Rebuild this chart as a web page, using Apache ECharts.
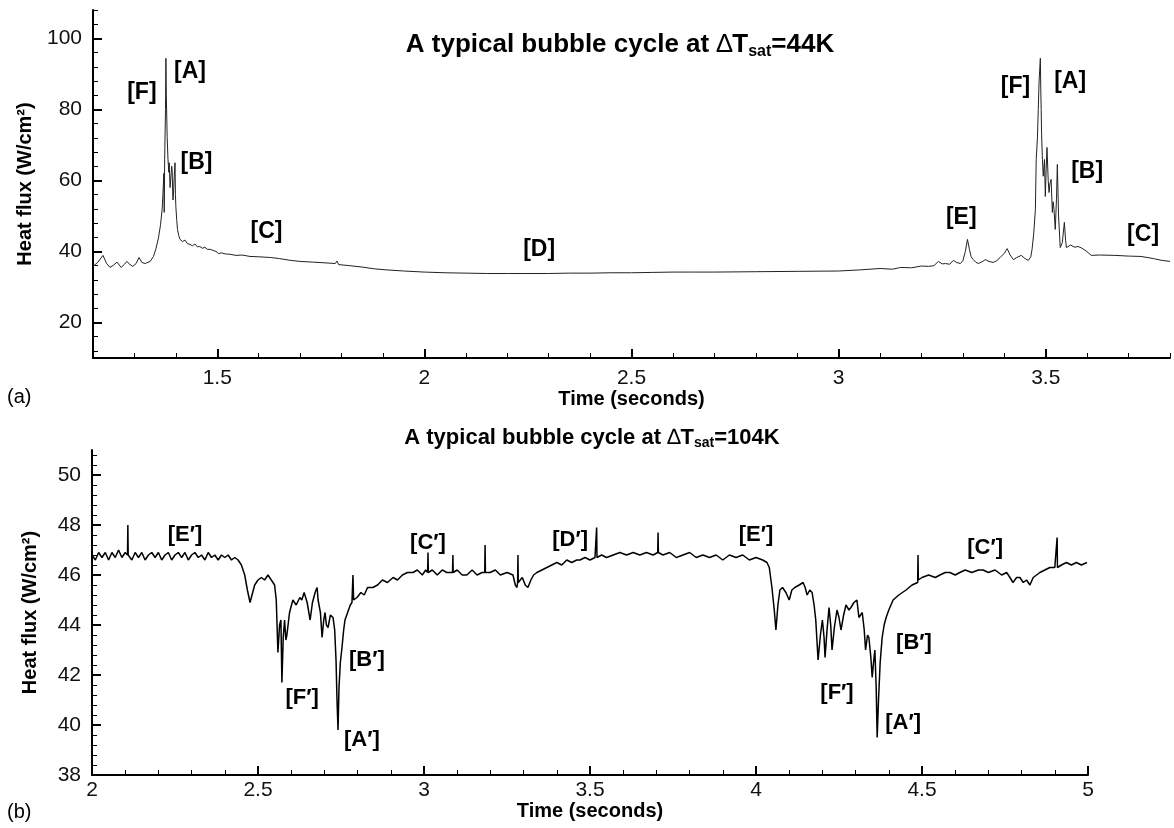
<!DOCTYPE html>
<html>
<head>
<meta charset="utf-8">
<script src="https://cdn.jsdelivr.net/npm/echarts@6/dist/echarts.min.js"></script>
<style>
  html, body { margin: 0; padding: 0; background: #fff; }
  #chart { width: 1174px; height: 828px; }
</style>
</head>
<body>
<div id="chart"></div>
<script>
// (a) dT_sat = 44K : time (s) and heat flux (W/cm2)
var topTime = [1.200, 1.212, 1.224, 1.233, 1.241, 1.250, 1.258, 1.268, 1.276, 1.282, 1.290, 1.296, 1.304, 1.311, 1.318, 1.326, 1.338, 1.346, 1.352, 1.358,
  1.363, 1.367, 1.369, 1.371, 1.372, 1.373, 1.375, 1.376, 1.377, 1.379, 1.381, 1.383, 1.384, 1.386, 1.388, 1.390, 1.391, 1.393, 1.394, 1.396,
  1.398, 1.399, 1.400, 1.402, 1.404, 1.407, 1.410, 1.416, 1.422, 1.428, 1.434, 1.440, 1.446, 1.452, 1.458, 1.464, 1.470, 1.476, 1.483, 1.490,
  1.497, 1.503, 1.510, 1.520, 1.531, 1.545, 1.560, 1.579, 1.600, 1.628, 1.650, 1.676, 1.700, 1.730, 1.760, 1.785, 1.789, 1.793, 1.820, 1.850,
  1.880, 1.910, 1.950, 2.000, 2.050, 2.100, 2.150, 2.200, 2.250, 2.300, 2.350, 2.400, 2.450, 2.500, 2.550, 2.600, 2.650, 2.700, 2.800, 2.900,
  3.000, 3.050, 3.100, 3.130, 3.150, 3.176, 3.200, 3.217, 3.230, 3.241, 3.250, 3.258, 3.268, 3.277, 3.285, 3.294, 3.300, 3.306, 3.311, 3.316,
  3.320, 3.325, 3.331, 3.337, 3.345, 3.354, 3.363, 3.373, 3.382, 3.390, 3.400, 3.407, 3.414, 3.422, 3.430, 3.441, 3.450, 3.458, 3.464, 3.467,
  3.471, 3.475, 3.477, 3.480, 3.482, 3.484, 3.487, 3.488, 3.489, 3.490, 3.492, 3.494, 3.497, 3.499, 3.501, 3.503, 3.506, 3.508, 3.510, 3.513,
  3.516, 3.518, 3.520, 3.523, 3.526, 3.528, 3.531, 3.535, 3.540, 3.545, 3.548, 3.550, 3.560, 3.570, 3.578, 3.586, 3.597, 3.610, 3.630, 3.667,
  3.700, 3.730, 3.760, 3.780, 3.800];
var topFlux = [35.8, 37.0, 38.9, 36.6, 35.5, 36.2, 37.0, 35.5, 36.4, 37.2, 36.2, 35.8, 36.6, 38.3, 36.9, 36.6, 37.2, 38.6, 40.8, 43.8,
  47.5, 52.0, 56.6, 62.0, 51.0, 66.0, 80.0, 94.4, 84.0, 72.4, 66.0, 62.3, 65.0, 58.0, 57.5, 64.0, 63.1, 54.5, 55.5, 61.0,
  65.0, 56.0, 52.7, 49.0, 46.2, 44.5, 43.4, 42.8, 43.2, 42.2, 42.0, 41.6, 42.1, 41.3, 41.4, 40.9, 41.2, 40.6, 40.6, 40.3,
  40.0, 39.4, 39.6, 39.3, 39.2, 38.9, 39.0, 38.6, 38.5, 38.3, 38.0, 37.5, 37.2, 37.0, 36.8, 36.6, 37.3, 36.3, 36.0, 35.6,
  35.1, 34.8, 34.5, 34.2, 34.0, 33.9, 33.8, 33.8, 33.8, 33.8, 33.9, 33.9, 34.0, 34.0, 34.1, 34.2, 34.2, 34.2, 34.3, 34.4,
  34.5, 34.8, 35.2, 35.0, 35.5, 35.4, 35.9, 35.8, 36.0, 37.2, 36.5, 36.6, 36.4, 37.5, 36.9, 36.6, 37.4, 40.0, 43.4, 40.5,
  38.5, 37.7, 37.0, 36.6, 37.0, 37.7, 37.2, 36.9, 37.4, 38.3, 39.5, 40.8, 39.0, 37.7, 38.3, 38.9, 38.0, 37.5, 38.5, 40.6,
  45.0, 51.8, 65.9, 72.0, 80.0, 88.0, 94.4, 86.0, 80.0, 73.0, 66.0, 61.2, 65.9, 55.5, 63.0, 69.3, 60.0, 56.6, 59.0, 60.3,
  51.0, 54.0, 51.8, 46.2, 55.0, 64.5, 50.0, 41.1, 42.5, 48.2, 43.0, 41.1, 41.8, 41.2, 41.4, 41.0, 40.2, 38.9, 39.0, 38.9,
  38.7, 38.6, 38.0, 37.5, 37.2];

// (b) dT_sat = 104K
var botTime = [2.000, 2.010, 2.020, 2.030, 2.040, 2.050, 2.060, 2.070, 2.080, 2.090, 2.100, 2.107, 2.108, 2.109, 2.120, 2.130, 2.140, 2.150, 2.160, 2.170,
  2.180, 2.190, 2.200, 2.210, 2.220, 2.230, 2.240, 2.250, 2.260, 2.270, 2.280, 2.290, 2.300, 2.310, 2.320, 2.330, 2.340, 2.350, 2.360, 2.370,
  2.380, 2.390, 2.400, 2.410, 2.420, 2.430, 2.440, 2.450, 2.460, 2.468, 2.476, 2.482, 2.490, 2.500, 2.510, 2.520, 2.530, 2.540, 2.550, 2.555,
  2.560, 2.565, 2.569, 2.572, 2.576, 2.580, 2.584, 2.587, 2.595, 2.605, 2.615, 2.626, 2.632, 2.639, 2.648, 2.657, 2.664, 2.672, 2.678, 2.681,
  2.688, 2.693, 2.698, 2.702, 2.706, 2.711, 2.718, 2.726, 2.731, 2.735, 2.738, 2.741, 2.744, 2.748, 2.753, 2.758, 2.762, 2.770, 2.778, 2.783,
  2.785, 2.786, 2.788, 2.798, 2.810, 2.820, 2.830, 2.846, 2.860, 2.875, 2.890, 2.907, 2.920, 2.935, 2.950, 2.967, 2.980, 2.995, 3.005, 3.011,
  3.012, 3.013, 3.025, 3.040, 3.055, 3.069, 3.086, 3.087, 3.088, 3.100, 3.115, 3.129, 3.145, 3.160, 3.175, 3.183, 3.184, 3.185, 3.199, 3.215,
  3.230, 3.250, 3.268, 3.275, 3.280, 3.282, 3.283, 3.284, 3.289, 3.296, 3.305, 3.313, 3.322, 3.330, 3.340, 3.355, 3.370, 3.385, 3.400, 3.415,
  3.430, 3.445, 3.460, 3.470, 3.485, 3.500, 3.515, 3.519, 3.520, 3.521, 3.535, 3.550, 3.570, 3.590, 3.610, 3.630, 3.650, 3.670, 3.690, 3.704,
  3.705, 3.706, 3.720, 3.740, 3.760, 3.780, 3.800, 3.820, 3.840, 3.860, 3.880, 3.900, 3.920, 3.940, 3.960, 3.980, 4.000, 4.020, 4.033, 4.040,
  4.048, 4.055, 4.060, 4.066, 4.072, 4.080, 4.090, 4.100, 4.108, 4.117, 4.130, 4.142, 4.148, 4.154, 4.162, 4.169, 4.175, 4.180, 4.187, 4.194,
  4.200, 4.205, 4.208, 4.214, 4.220, 4.225, 4.229, 4.236, 4.244, 4.250, 4.256, 4.264, 4.271, 4.280, 4.286, 4.295, 4.304, 4.310, 4.320, 4.326,
  4.330, 4.336, 4.340, 4.346, 4.350, 4.354, 4.358, 4.362, 4.365, 4.369, 4.374, 4.380, 4.386, 4.392, 4.400, 4.413, 4.430, 4.452, 4.470, 4.487,
  4.488, 4.489, 4.500, 4.520, 4.540, 4.554, 4.570, 4.584, 4.600, 4.614, 4.630, 4.650, 4.670, 4.684, 4.700, 4.720, 4.740, 4.755, 4.765, 4.774,
  4.785, 4.795, 4.805, 4.815, 4.825, 4.835, 4.845, 4.855, 4.870, 4.885, 4.900, 4.906, 4.907, 4.908, 4.920, 4.935, 4.950, 4.965, 4.980, 4.997];
var botFlux = [46.8, 46.6, 46.9, 46.7, 46.9, 46.6, 46.9, 46.7, 47.0, 46.7, 46.9, 46.8, 48.0, 46.8, 46.6, 46.9, 46.7, 46.9, 46.6, 46.8,
  46.9, 46.7, 46.9, 46.6, 46.8, 46.9, 46.6, 46.8, 46.9, 46.7, 46.9, 46.6, 46.8, 46.9, 46.7, 46.8, 46.6, 46.9, 46.7, 46.8,
  46.6, 46.8, 46.7, 46.8, 46.6, 46.7, 46.6, 46.4, 46.0, 45.4, 44.9, 45.2, 45.6, 45.8, 45.9, 45.8, 46.0, 45.8, 45.6, 45.0,
  42.9, 44.0, 44.2, 41.7, 43.5, 44.2, 43.4, 43.6, 44.5, 45.0, 44.8, 45.1, 45.0, 45.3, 44.9, 44.2, 44.9, 45.3, 45.5, 45.0,
  44.5, 43.5, 44.2, 44.5, 44.0, 43.9, 44.4, 44.3, 43.8, 42.6, 41.0, 39.8, 41.5, 42.5, 43.1, 43.8, 44.2, 44.5, 44.8, 44.9,
  44.9, 46.0, 45.0, 45.1, 45.3, 45.2, 45.5, 45.5, 45.6, 45.8, 45.7, 45.9, 45.8, 46.0, 46.1, 46.1, 46.2, 46.0, 46.2, 46.1,
  46.9, 46.1, 46.2, 46.0, 46.2, 46.1, 46.1, 46.8, 46.1, 46.2, 46.0, 46.0, 46.2, 46.0, 46.1, 46.1, 47.2, 46.1, 46.1, 46.2,
  46.0, 46.1, 46.0, 45.6, 45.5, 45.7, 46.8, 45.7, 45.7, 45.9, 45.6, 45.5, 45.8, 46.0, 46.1, 46.2, 46.3, 46.4, 46.5, 46.4,
  46.6, 46.5, 46.6, 46.6, 46.7, 46.6, 46.7, 46.7, 47.9, 46.7, 46.8, 46.7, 46.8, 46.9, 46.8, 46.9, 46.8, 46.9, 46.8, 46.9,
  47.7, 46.9, 46.8, 46.9, 46.7, 46.8, 46.9, 46.7, 46.8, 46.7, 46.8, 46.6, 46.8, 46.7, 46.8, 46.6, 46.7, 46.6, 46.5, 46.3,
  45.5, 44.6, 43.8, 44.8, 45.4, 45.5, 45.3, 45.0, 45.4, 45.5, 45.6, 45.7, 45.5, 45.2, 45.4, 45.3, 44.8, 44.2, 42.6, 43.6,
  44.2, 43.5, 42.7, 43.8, 44.7, 44.0, 43.0, 43.9, 44.6, 44.3, 43.8, 44.4, 44.8, 44.6, 44.7, 44.9, 45.0, 44.3, 44.5, 43.8,
  43.0, 43.6, 43.5, 42.7, 41.9, 42.5, 43.0, 41.5, 39.5, 41.0, 42.5, 43.5, 44.0, 44.3, 44.6, 45.0, 45.2, 45.4, 45.6, 45.7,
  46.8, 45.8, 45.9, 46.0, 45.9, 46.0, 46.1, 46.1, 46.0, 46.1, 46.2, 46.1, 46.2, 46.2, 46.1, 46.2, 46.0, 46.1, 45.9, 45.7,
  45.9, 45.9, 45.7, 45.8, 45.6, 45.9, 46.0, 46.1, 46.2, 46.3, 46.3, 46.3, 47.5, 46.3, 46.4, 46.5, 46.4, 46.5, 46.4, 46.5];

// stage labels, placed in data coordinates
var topNotes = ['[F]', '[A]', '[B]', '[C]', '[D]', '[E]', '[F]', '[A]', '[B]', '[C]'];
var topNoteTime = [1.318, 1.434, 1.450, 1.619, 2.277, 3.296, 3.427, 3.559, 3.600, 3.735];
var topNoteFlux = [84.8, 90.7, 65.1, 45.6, 40.6, 49.6, 86.5, 87.9, 62.5, 44.8];
var botNotes = ['[E\u2032]', '[C\u2032]', '[D\u2032]', '[E\u2032]', '[C\u2032]', '[F\u2032]', '[B\u2032]', '[A\u2032]', '[F\u2032]', '[B\u2032]', '[A\u2032]'];
var botNoteTime = [2.280, 3.012, 3.440, 4.000, 4.690, 2.633, 2.828, 2.813, 4.244, 4.476, 4.443];
var botNoteFlux = [47.6, 47.3, 47.4, 47.6, 47.1, 41.1, 42.6, 39.4, 41.3, 43.3, 40.1];

// tick labels
var topXTicks = [1.5, 2, 2.5, 3, 3.5];
var topYTicks = [20, 40, 60, 80, 100];
var botXTicks = [2, 2.5, 3, 3.5, 4, 4.5, 5];
var botYTicks = [38, 40, 42, 44, 46, 48, 50];

function steps(from, to, step, skip) {
  var out = [];
  for (var i = 0; from + i * step <= to + 1e-9; i++) {
    var v = +(from + i * step).toFixed(3);
    if (skip.indexOf(v) < 0) out.push(v);
  }
  return out;
}
function zip(a, b) { return a.map(function (t, i) { return [t, b[i]]; }); }

var FONT = 'Liberation Sans';
var black = '#000';

function majorAxis(grid, min, max, ticks, pos, margin, extra) {
  var ax = {
    gridIndex: grid, type: 'value', min: min, max: max, position: pos,
    axisLine: { onZero: false, lineStyle: { color: black, width: 2 } },
    axisTick: { inside: true, length: 9, customValues: ticks, lineStyle: { color: black, width: 2 } },
    axisLabel: { customValues: ticks, color: '#111', fontFamily: FONT, fontSize: 21, margin: margin },
    splitLine: { show: false }
  };
  return Object.assign(ax, extra || {});
}
function minorAxis(grid, min, max, ticks, pos) {
  return {
    gridIndex: grid, type: 'value', min: min, max: max, position: pos,
    axisLine: { show: false, onZero: false },
    axisTick: { inside: true, length: 5, customValues: ticks, lineStyle: { color: black, width: 1 } },
    axisLabel: { show: false },
    splitLine: { show: false }
  };
}

var nameStyle = { fontFamily: FONT, fontSize: 20, fontWeight: 'bold', color: black };
function noteLabel(size) {
  return {
    show: true, position: 'inside', formatter: '{b}', fontFamily: FONT, fontSize: size,
    fontWeight: 'bold', color: black, opacity: 1, textBorderWidth: 0
  };
}

var option = {
  animation: false,
  backgroundColor: '#fff',
  grid: [
    { left: 93, top: 10, width: 1077, height: 348 },
    { left: 92, top: 450, width: 996, height: 325 }
  ],
  xAxis: [
    majorAxis(0, 1.2, 3.8, topXTicks, 'bottom', 10, { name: 'Time (seconds)', nameLocation: 'middle', nameGap: 29, nameTextStyle: nameStyle }),
    minorAxis(0, 1.2, 3.8, steps(1.2, 3.8, 0.1, topXTicks), 'bottom'),
    majorAxis(1, 2, 5, botXTicks, 'bottom', 5, { name: 'Time (seconds)', nameLocation: 'middle', nameGap: 23, nameTextStyle: nameStyle }),
    minorAxis(1, 2, 5, steps(2, 5, 0.1, botXTicks), 'bottom')
  ],
  yAxis: [
    majorAxis(0, 10, 108, topYTicks, 'left', 11, { name: 'Heat flux (W/cm\u00b2)', nameLocation: 'middle', nameGap: 58, nameTextStyle: nameStyle }),
    minorAxis(0, 10, 108, steps(12, 108, 4, topYTicks), 'left'),
    majorAxis(1, 38, 51, botYTicks, 'left', 11, { name: 'Heat flux (W/cm\u00b2)', nameLocation: 'middle', nameGap: 52, nameTextStyle: nameStyle }),
    minorAxis(1, 38, 51, steps(38, 51, 0.4, botYTicks), 'left')
  ],
  series: [
    {
      type: 'line', xAxisIndex: 0, yAxisIndex: 0, data: zip(topTime, topFlux),
      showSymbol: false, symbol: 'none', lineStyle: { color: '#222', width: 1 }
    },
    {
      type: 'line', xAxisIndex: 2, yAxisIndex: 2, data: zip(botTime, botFlux),
      showSymbol: false, symbol: 'none', lineStyle: { color: '#000', width: 1.5 }
    },
    {
      type: 'scatter', xAxisIndex: 0, yAxisIndex: 0, symbolSize: 0, silent: true,
      itemStyle: { color: black, opacity: 1 },
      data: topNotes.map(function (n, i) { return { name: n, value: [topNoteTime[i], topNoteFlux[i]] }; }),
      label: noteLabel(23)
    },
    {
      type: 'scatter', xAxisIndex: 2, yAxisIndex: 2, symbolSize: 0, silent: true,
      itemStyle: { color: black, opacity: 1 },
      data: botNotes.map(function (n, i) { return { name: n, value: [botNoteTime[i], botNoteFlux[i]] }; }),
      label: noteLabel(22)
    }
  ],
  graphic: [
    {
      type: 'text', x: 620, y: 45,
      style: {
        text: '{n|A typical bubble cycle at }{d|\u2206}{n|T}{s|sat}{n|=44K}',
        align: 'center', verticalAlign: 'middle',
        rich: {
          n: { fontFamily: FONT, fontSize: 26, fontWeight: 'bold', fill: black },
          d: { fontFamily: FONT, fontSize: 26, fill: black },
          s: { fontFamily: FONT, fontSize: 16, fontWeight: 'bold', fill: black, padding: [13, 0, 0, 0] }
        }
      }
    },
    {
      type: 'text', x: 592, y: 438,
      style: {
        text: '{n|A typical bubble cycle at }{d|\u2206}{n|T}{s|sat}{n|=104K}',
        align: 'center', verticalAlign: 'middle',
        rich: {
          n: { fontFamily: FONT, fontSize: 22, fontWeight: 'bold', fill: black },
          d: { fontFamily: FONT, fontSize: 22, fill: black },
          s: { fontFamily: FONT, fontSize: 14, fontWeight: 'bold', fill: black, padding: [11, 0, 0, 0] }
        }
      }
    },
    { type: 'text', x: 7, y: 397, style: { text: '(a)', fontFamily: FONT, fontSize: 20, fill: black, verticalAlign: 'middle' } },
    { type: 'text', x: 7, y: 812, style: { text: '(b)', fontFamily: FONT, fontSize: 20, fill: black, verticalAlign: 'middle' } }
  ]
};

var chart = echarts.init(document.getElementById('chart'));
chart.setOption(option);
</script>
</body>
</html>
